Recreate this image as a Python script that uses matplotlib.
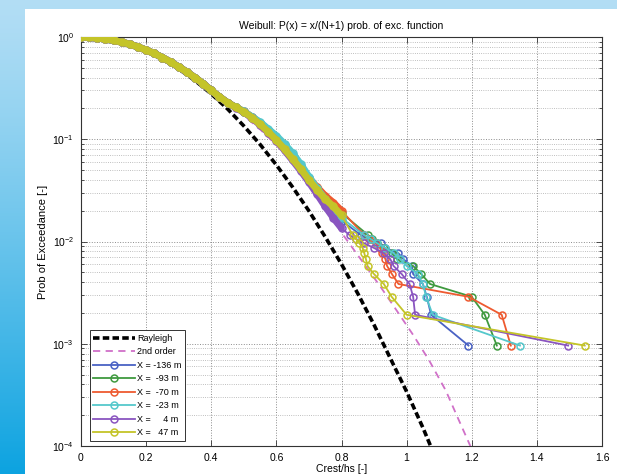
import numpy as np
import matplotlib
matplotlib.use("Agg")
import matplotlib.pyplot as plt
from matplotlib.patches import Rectangle
from matplotlib.ticker import LogLocator, NullFormatter, FixedLocator

plt.rcParams['font.family'] = ['Liberation Sans', 'DejaVu Sans']

# ---------------- data ----------------
title = "Weibull: P(x) = x/(N+1) prob. of exc. function"
xlabel = "Crest/hs [-]"
ylabel = "Prob of Exceedance [-]"
xticks = [0, 0.2, 0.4, 0.6, 0.8, 1, 1.2, 1.4, 1.6]
xticklabels = ["0", "0.2", "0.4", "0.6", "0.8", "1", "1.2", "1.4", "1.6"]

rayleigh_x = [0, 0.05, 0.1, 0.15, 0.2, 0.25, 0.3, 0.35, 0.4, 0.45, 0.5, 0.55,
              0.6, 0.65, 0.7, 0.75, 0.8, 0.85, 0.9, 0.95, 1.0, 1.05, 1.1]
rayleigh_p = [1.0, 0.98, 0.923, 0.835, 0.726, 0.607, 0.487, 0.375, 0.278, 0.198,
              0.135, 0.089, 0.056, 0.034, 0.0199, 0.0111, 0.0060, 0.0031,
              0.00153, 0.00072, 0.00034, 0.000151, 0.000063]

second_x = [0, 0.1, 0.2, 0.3, 0.4, 0.5, 0.55, 0.6, 0.65, 0.7, 0.75, 0.8, 0.87,
            0.92, 0.97, 1.02, 1.07, 1.12, 1.16, 1.2]
second_p = [1.0, 0.925, 0.73, 0.49, 0.285, 0.17, 0.125, 0.088, 0.058, 0.038,
            0.022, 0.0122, 0.0060, 0.0036, 0.0021, 0.00122, 0.00068, 0.00035,
            0.00018, 0.000093]

body_x = [0.0, 0.025, 0.05, 0.075, 0.1, 0.125, 0.15, 0.175, 0.2, 0.225, 0.25,
          0.275, 0.3, 0.325, 0.35, 0.375, 0.4, 0.425, 0.45, 0.475, 0.5, 0.525,
          0.55, 0.575, 0.6, 0.625, 0.65, 0.675, 0.7, 0.725, 0.75, 0.775, 0.8]

body_p_m136 = [1.0, 0.99, 0.975, 0.955, 0.925, 0.89, 0.85, 0.80, 0.745, 0.69, 0.63,
               0.57, 0.51, 0.455, 0.40, 0.35, 0.30, 0.26, 0.228, 0.205, 0.186, 0.165,
               0.145, 0.124, 0.105, 0.087, 0.07, 0.055, 0.042, 0.031, 0.024, 0.019, 0.016]
body_p_m93 = [1.0, 0.99, 0.975, 0.955, 0.925, 0.89, 0.85, 0.80, 0.745, 0.69, 0.63,
              0.57, 0.51, 0.455, 0.40, 0.35, 0.30, 0.26, 0.228, 0.205, 0.185, 0.163,
              0.141, 0.12, 0.10, 0.081, 0.065, 0.052, 0.041, 0.033, 0.027, 0.022, 0.019]
body_p_m70 = [1.0, 0.99, 0.975, 0.955, 0.925, 0.89, 0.85, 0.80, 0.745, 0.69, 0.63,
              0.57, 0.51, 0.455, 0.40, 0.35, 0.30, 0.26, 0.228, 0.206, 0.187, 0.165,
              0.145, 0.122, 0.10, 0.082, 0.066, 0.053, 0.042, 0.034, 0.028, 0.024, 0.020]
body_p_m23 = [1.0, 0.99, 0.975, 0.955, 0.925, 0.89, 0.85, 0.80, 0.745, 0.69, 0.63,
              0.57, 0.51, 0.455, 0.40, 0.35, 0.30, 0.26, 0.228, 0.206, 0.187, 0.166,
              0.147, 0.126, 0.108, 0.09, 0.073, 0.057, 0.043, 0.033, 0.026, 0.021, 0.017]
body_p_4 = [1.0, 0.99, 0.975, 0.955, 0.925, 0.89, 0.85, 0.80, 0.745, 0.69, 0.63,
            0.57, 0.51, 0.455, 0.40, 0.35, 0.30, 0.26, 0.228, 0.204, 0.184, 0.161,
            0.138, 0.116, 0.097, 0.078, 0.062, 0.049, 0.038, 0.029, 0.022, 0.017, 0.0135]
body_p_47 = [1.0, 0.99, 0.975, 0.955, 0.925, 0.89, 0.85, 0.80, 0.745, 0.69, 0.63,
             0.57, 0.51, 0.455, 0.40, 0.35, 0.30, 0.26, 0.228, 0.205, 0.185, 0.163,
             0.14, 0.118, 0.098, 0.08, 0.064, 0.051, 0.040, 0.032, 0.026, 0.022, 0.018]

# lowest ranks, P = i/(N+1), from rank 12 down to rank 1
tail_p = [0.01153, 0.01057, 0.0096, 0.00864, 0.00768, 0.00672, 0.00576,
          0.0048, 0.00384, 0.00288, 0.00192, 0.00096]
tail_x_m136 = [0.86, 0.89, 0.92, 0.934, 0.975, 0.99, 1.016, 1.02, 1.05, 1.062, 1.075, 1.19]
tail_x_m93 = [0.882, 0.895, 0.91, 0.93, 0.955, 0.97, 1.02, 1.045, 1.072, 1.20, 1.24, 1.277]
tail_x_m70 = [0.87, 0.885, 0.905, 0.918, 0.925, 0.935, 0.94, 0.955, 0.975, 1.19, 1.292, 1.32]
tail_x_m23 = [0.87, 0.89, 0.91, 0.935, 0.96, 0.98, 1.0, 1.035, 1.05, 1.06, 1.08, 1.348]
tail_x_4 = [0.825, 0.845, 0.87, 0.90, 0.93, 0.95, 0.96, 0.985, 1.009, 1.02, 1.026, 1.496]
tail_x_47 = [0.835, 0.845, 0.855, 0.865, 0.87, 0.875, 0.88, 0.90, 0.93, 0.954, 1.0, 1.547]

series_labels = ["X = -136 m", "X =  -93 m", "X =  -70 m", "X =  -23 m",
                 "X =     4 m", "X =   47 m"]
series_body = [body_p_m136, body_p_m93, body_p_m70, body_p_m23, body_p_4, body_p_47]
series_tail = [tail_x_m136, tail_x_m93, tail_x_m70, tail_x_m23, tail_x_4, tail_x_47]
series_colors = ["#4a62c4", "#3f9a3f", "#ee5a30", "#55c8cc", "#8a55c0", "#c4c428"]

# ---------------- figure ----------------
W, H = 617, 474
fig = plt.figure(figsize=(W / 100, H / 100), dpi=100)

# slide background
bg = fig.add_axes([0, 0, 1, 1], zorder=-10)
yy = np.linspace(0, 1, 200)[:, None]
xx = np.linspace(0, 1, 200)[None, :]
top = np.array([0.70, 0.87, 0.96])
bot = np.array([0.05, 0.64, 0.88])
t = (yy ** 1.2) * np.ones_like(xx)
img = top[None, None, :] * (1 - t[..., None]) + bot[None, None, :] * t[..., None]
bg.imshow(img, extent=[0, 1, 0, 1], aspect='auto', origin='upper')
bg.add_patch(Rectangle((25 / W, 0), 1, 1 - 9 / H, facecolor='white', edgecolor='none'))
bg.set_xlim(0, 1)
bg.set_ylim(0, 1)
bg.axis('off')

ax = fig.add_axes([81 / W, 1 - 446 / H, (602 - 81) / W, (446 - 37) / H])
ax.set_facecolor('white')

ax.plot(rayleigh_x, rayleigh_p, color='black', lw=2.6, dashes=(1.8, 0.9),
        label='Rayleigh', zorder=3)
ax.plot(second_x, second_p, color='#d070c8', lw=1.3, dashes=(4, 3),
        label='2nd order', zorder=3)

for lab, bp, tx, col in zip(series_labels, series_body, series_tail, series_colors):
    xs = body_x + tx
    ps = bp + tail_p
    ax.plot(body_x, bp, color=col, lw=5.0, solid_capstyle='round', zorder=4)
    ax.plot(xs, ps, color=col, lw=1.3, marker='o', ms=5, mfc='none', mew=1.1,
            label=lab, zorder=4)

ax.set_yscale('log')
ax.set_xlim(0, 1.6)
ax.set_ylim(1e-4, 1)
ax.xaxis.set_major_locator(FixedLocator(xticks))
ax.set_xticklabels(xticklabels)
ax.yaxis.set_major_locator(LogLocator(base=10, numticks=10))
ax.yaxis.set_minor_locator(LogLocator(base=10, subs=np.arange(2, 10), numticks=20))
ax.yaxis.set_minor_formatter(NullFormatter())

ax.grid(True, which='major', ls=':', color='#8c8c8c', lw=0.7)
ax.grid(True, which='minor', axis='y', ls=':', color='#aaaaaa', lw=0.6)
ax.set_axisbelow(True)

ax.tick_params(which='both', direction='in', top=True, right=True, labelsize=7.5,
               width=0.6, color='#333333')
ax.tick_params(which='major', length=4)
ax.tick_params(which='minor', length=2)
ax.tick_params(axis='x', pad=5)
ax.tick_params(axis='y', pad=5)
for s in ax.spines.values():
    s.set_linewidth(0.8)
    s.set_color('#333333')

ax.set_title(title, fontsize=7.5, pad=6)
ax.set_ylabel(ylabel, fontsize=8)
ax.yaxis.set_label_coords(-0.063, 0.5)
ax.set_xlabel(xlabel, fontsize=7.5)
ax.xaxis.set_label_coords(0.5, -0.043)

leg = ax.legend(loc='lower left', bbox_to_anchor=(0.017, 0.012), fontsize=6.5,
                frameon=True, fancybox=False, edgecolor='#333333', framealpha=1,
                handlelength=4.6, handletextpad=0.25, borderpad=0.4,
                labelspacing=0.5, borderaxespad=0)
leg.get_frame().set_linewidth(0.7)
leg.set_zorder(10)

fig.savefig('out.png', dpi=100)
